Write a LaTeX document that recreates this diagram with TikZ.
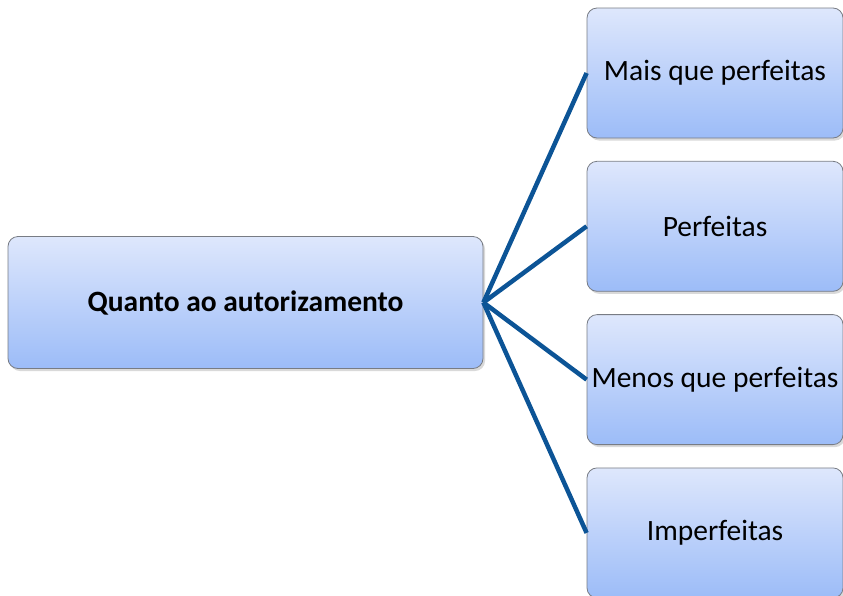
\documentclass[tikz,border=0pt]{standalone}
\usepackage{fontspec}
\setmainfont{Carlito}
\usetikzlibrary{positioning,shadows}
\definecolor{caixaTopo}{RGB}{222,231,252}
\definecolor{caixaBase}{RGB}{156,188,248}
\definecolor{caixaBorda}{RGB}{120,124,132}
\definecolor{ligacao}{RGB}{12,84,150}

\begin{document}
\begin{tikzpicture}[x=1pt,y=-1pt,
	every node/.style={font=\fontsize{29.5}{35}\selectfont},
	caixa/.style={draw=caixaBorda,line width=.8pt,rounded corners=10pt,top color=caixaTopo,bottom color=caixaBase,
		drop shadow={opacity=.3,shadow xshift=2pt,shadow yshift=-2.5pt},
		minimum width=256pt,minimum height=130pt,inner sep=0pt,align=center,node distance=22.5pt},
	ligacao/.style={draw=ligacao,line width=4.5pt}]
	\useasboundingbox (0,0) rectangle (843,595);

	\node[caixa,minimum width=475pt,minimum height=132pt] (Quanto) at (245.5,302.5) {\textbf{Quanto ao autorizamento}};
	\node[caixa]                  (MaisPerf)  at (715,73) {Mais que perfeitas};
	\node[caixa,below=of MaisPerf]  (Perf)      {Perfeitas};
	\node[caixa,below=of Perf]      (MenosPerf) {Menos que perfeitas};
	\node[caixa,below=of MenosPerf] (Imperf)    {Imperfeitas};

	\path[ligacao] (Quanto.east) edge (MaisPerf.west)
	               (Quanto.east) edge (Perf.west)
	               (Quanto.east) edge (MenosPerf.west)
	               (Quanto.east) edge (Imperf.west);
\end{tikzpicture}
\end{document}
